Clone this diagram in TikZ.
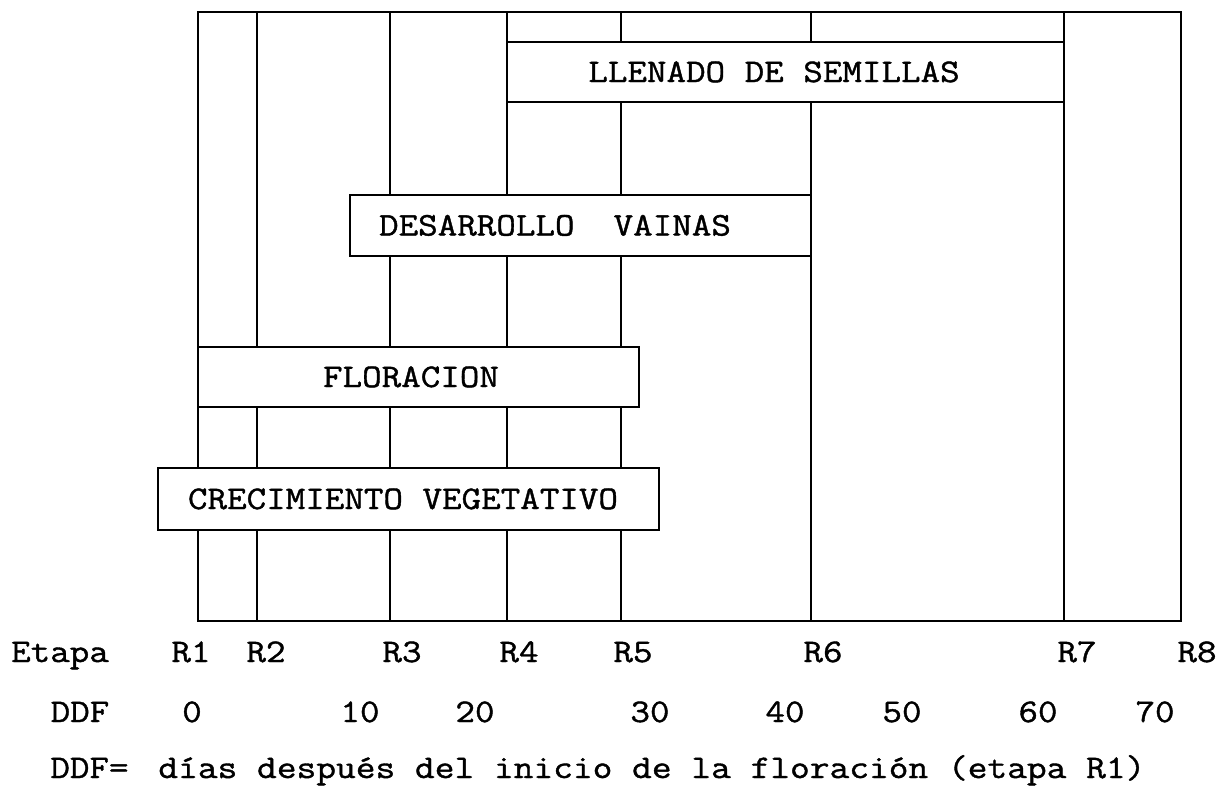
\documentclass[tikz,border=0pt]{standalone}
\usepackage{fontspec}
\setmainfont{Latin Modern Mono}[FakeStretch=1.15,FakeBold=1.2]
\begin{document}
\begin{tikzpicture}[x=1pt,y=-1pt,line width=2.8pt,
  phase/.style={draw,fill=white,rectangle,inner sep=0pt,line width=2.8pt},
  txt/.style={font=\fontsize{33}{36}\selectfont,inner sep=0pt,anchor=base},
  stage/.style={draw,line width=2.8pt}]
\useasboundingbox (0,0) rectangle (1216,788);
% stage line end points
\foreach \n/\x in {1/198,2/257,3/390,4/507,5/621,6/811,7/1064,8/1181}{
  \coordinate (R\n t) at (\x,12);
  \coordinate (R\n b) at (\x,621);
}
\foreach \n in {2,3,4,5,6,7}{ \draw[stage] (R\n t) -- (R\n b); }
\draw[stage] (R1t) rectangle (R8b);
% phase boxes
\node[phase,minimum width=557pt,minimum height=60pt] (llenado) at (785.5,72) {};
\node[phase,minimum width=461pt,minimum height=61pt] (desarrollo) at (580.5,225.5) {};
\node[phase,minimum width=441pt,minimum height=60pt] (floracion) at (418.5,377) {};
\node[phase,minimum width=501pt,minimum height=62pt] (crecimiento) at (408.5,499) {};
\node[txt] (tllen) at (774,82) {LLENADO DE SEMILLAS};
\node[txt] (tdes) at (555,235.5) {DESARROLLO\ \ VAINAS};
\node[txt] (tflo) at (411,387) {FLORACION};
\node[txt] (tcre) at (403,509) {CRECIMIENTO VEGETATIVO};
% stage labels
\node[txt] (etapa) at (60,662) {Etapa};
\foreach \n/\x in {1/191,2/266,3/402,4/519,5/633,6/823,7/1077,8/1197}{
  \node[txt] (lR\n) at (\x,662) {R\n};
}
% days
\node[txt] (ddf) at (80,722) {DDF};
\foreach \v/\x in {0/192,10/360,20/475,30/650,40/785,50/902,60/1038,70/1155}{
  \node[txt] (d\v) at (\x,722) {\v};
}
% footnote
\node[txt,anchor=base west] (fn1) at (49,778) {DDF=};
\node[txt,anchor=base west,xscale=1.01] (fn2) at (157,778) {días después del inicio de la floración (etapa R1)};
\end{tikzpicture}
\end{document}
